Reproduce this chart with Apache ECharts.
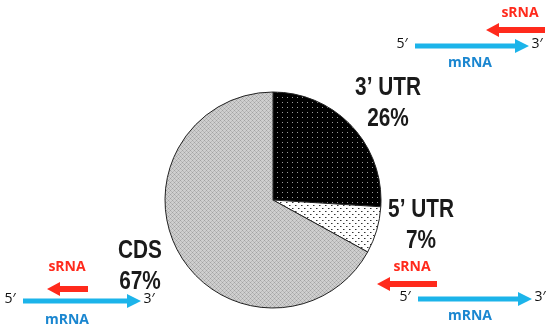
<!DOCTYPE html>
<html>
<head>
<meta charset="utf-8">
<script src="https://cdn.jsdelivr.net/npm/echarts@6/dist/echarts.min.js"></script>
<style>
  html, body { margin: 0; padding: 0; background: #fff; }
  #chart { width: 550px; height: 333px; }
</style>
</head>
<body>
<div id="chart"></div>
<script>
// data
const regions = ['3’ UTR', '5’ UTR', 'CDS'];
const shares = [26, 7, 67];

// label anchor points (px) for each region
const labelPos = [[388, 103], [421, 225], [140, 266]];

// small tiled patterns for the slices
function makeTile(size, bg, draw) {
  const c = document.createElement('canvas');
  c.width = size; c.height = size;
  const ctx = c.getContext('2d');
  ctx.fillStyle = bg;
  ctx.fillRect(0, 0, size, size);
  draw(ctx);
  return c;
}
const darkDots = makeTile(5, '#000', ctx => {
  ctx.fillStyle = '#9a9a9a';
  ctx.fillRect(2, 2, 1, 1);
});
const lightDots = makeTile(6, '#fff', ctx => {
  ctx.fillStyle = '#333';
  ctx.fillRect(1, 1, 1, 1);
  ctx.fillRect(4, 4, 1, 1);
  ctx.fillStyle = '#999';
  ctx.fillRect(2, 1, 1, 1);
  ctx.fillRect(5, 4, 1, 1);
});
const crossHatch = makeTile(4, '#cfcfcf', ctx => {
  ctx.fillStyle = '#a2a2a2';
  ctx.fillRect(0, 0, 1, 1);
  ctx.fillRect(2, 2, 1, 1);
  ctx.fillStyle = '#b8b8b8';
  ctx.fillRect(1, 1, 1, 1);
  ctx.fillRect(3, 3, 1, 1);
  ctx.fillRect(1, 3, 1, 1);
  ctx.fillRect(3, 1, 1, 1);
});
const fills = [darkDots, lightDots, crossHatch];

const RED = '#ff2a1c';
const BLUE = '#1cb4ea';
const BLUE_TEXT = '#1a86d0';

// horizontal block arrow; head at x2
function arrow(x1, x2, y, thick, headH, headL, color) {
  const dir = x2 > x1 ? 1 : -1;
  const xb = x2 - dir * headL;
  return {
    type: 'polygon',
    shape: { points: [
      [x1, y - thick / 2], [xb, y - thick / 2], [xb, y - headH / 2],
      [x2, y], [xb, y + headH / 2], [xb, y + thick / 2], [x1, y + thick / 2]
    ] },
    style: { fill: color }
  };
}
function txt(x, y, s, color, size, weight) {
  return {
    type: 'text', x: x, y: y,
    style: {
      text: s, fill: color, font: (weight || 'normal') + ' ' + size + 'px "Open Sans", sans-serif',
      textAlign: 'center', textVerticalAlign: 'middle'
    }
  };
}
function diagram(o) {
  return [
    txt(o.sx, o.sy, 'sRNA', RED, 14, 'bold'),
    arrow(o.r1, o.r2, o.ry, 6, 14, 13, RED),
    arrow(o.b1, o.b2, o.by, 5, 14, 14, BLUE),
    txt(o.b1 - 13, o.by - 2, '5′', '#111', 14),
    txt(o.b2 + 8, o.by - 2, '3′', '#111', 14),
    txt(o.mx, o.my, 'mRNA', BLUE_TEXT, 14, 'bold')
  ];
}

// slice labels in a narrow bold face (squeezed horizontally)
const sliceLabels = regions.map((r, i) => ({
  type: 'text',
  x: labelPos[i][0],
  y: labelPos[i][1],
  scaleX: 0.8,
  style: {
    text: r + '\n' + shares[i] + '%',
    fill: '#1a1a1a',
    font: 'bold 26px "Liberation Sans", Arial, sans-serif',
    lineHeight: 31,
    textAlign: 'center',
    textVerticalAlign: 'middle'
  }
}));

const chart = echarts.init(document.getElementById('chart'));
chart.setOption({
  animation: false,
  backgroundColor: '#fff',
  series: [{
    type: 'pie',
    center: [273, 200],
    radius: 108,
    startAngle: 90,
    clockwise: true,
    label: { show: false },
    labelLine: { show: false },
    itemStyle: { borderColor: '#222', borderWidth: 1 },
    emphasis: { disabled: true },
    data: regions.map((r, i) => ({
      name: r,
      value: shares[i],
      itemStyle: { color: { image: fills[i], repeat: 'repeat' } }
    }))
  }],
  graphic: [].concat(
    sliceLabels,
    diagram({ sx: 520, sy: 13, r1: 545, r2: 486, ry: 30, b1: 415, b2: 529, by: 46, mx: 470, my: 63 }),
    diagram({ sx: 67, sy: 267, r1: 88, r2: 47, ry: 289, b1: 23, b2: 141, by: 301, mx: 67, my: 320 }),
    diagram({ sx: 412, sy: 267, r1: 437, r2: 377, ry: 284, b1: 418, b2: 532, by: 299, mx: 470, my: 316 })
  )
});
</script>
</body>
</html>
